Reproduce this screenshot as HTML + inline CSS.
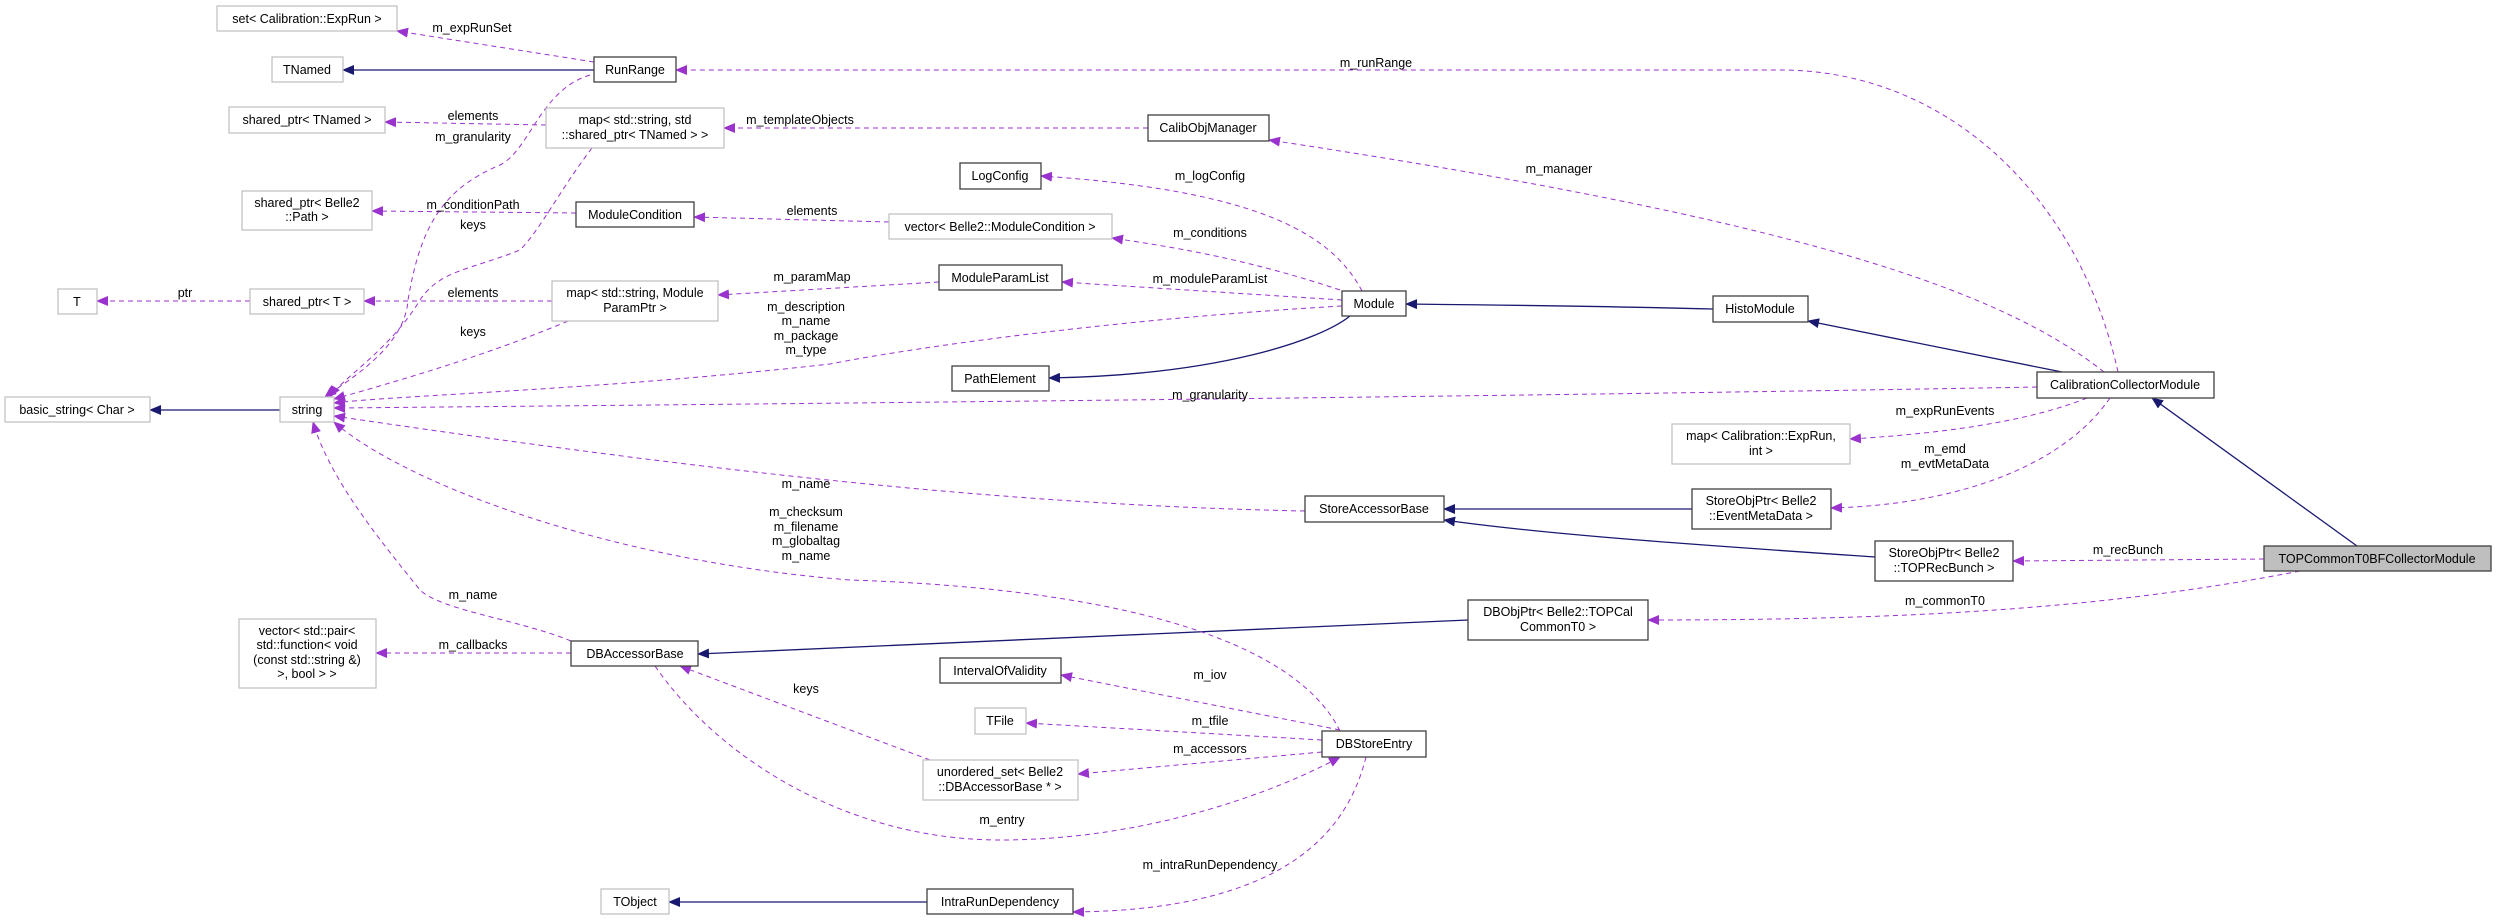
<!DOCTYPE html>
<html><head><meta charset="utf-8"><style>
html,body{margin:0;padding:0;background:#fff;}
svg{display:block;}
text{font-family:"Liberation Sans",sans-serif;font-size:12.5px;fill:#000;}
.p{fill:none;stroke:#9a32cd;stroke-width:1;stroke-dasharray:5,4;}
.n{fill:none;stroke:#191970;stroke-width:1.3;}
.b{fill:#fff;stroke:#404040;stroke-width:1.3;}
.g{fill:#fff;stroke:#bfbfbf;stroke-width:1.2;}
</style></head><body>
<svg width="2496" height="920" viewBox="0 0 2496 920" xmlns="http://www.w3.org/2000/svg">
<defs>
<marker id="ap" markerWidth="12" markerHeight="10" refX="11" refY="5" orient="auto" markerUnits="userSpaceOnUse"><path d="M0,0 L12,5 L0,10 z" fill="#9a32cd"/></marker>
<marker id="an" markerWidth="12" markerHeight="10" refX="11" refY="5" orient="auto" markerUnits="userSpaceOnUse"><path d="M0,0 L12,5 L0,10 z" fill="#191970"/></marker>
</defs>
<path class="n" marker-end="url(#an)" d="M594,70 L343,70"/>
<path class="n" marker-end="url(#an)" d="M280,410 L150,410"/>
<path class="n" marker-end="url(#an)" d="M1713,309 C1600,306 1500,305 1406,304"/>
<path class="n" marker-end="url(#an)" d="M1350,316 C1320,340 1220,375 1049,378"/>
<path class="n" marker-end="url(#an)" d="M2062,372 L1808,321"/>
<path class="n" marker-end="url(#an)" d="M2357,546 L2152,398"/>
<path class="n" marker-end="url(#an)" d="M1692,509 L1444,509"/>
<path class="n" marker-end="url(#an)" d="M1875,557 C1700,545 1550,535 1444,520"/>
<path class="n" marker-end="url(#an)" d="M1468,620 L698,654"/>
<path class="n" marker-end="url(#an)" d="M927,902 L669,902"/>
<path class="p" marker-end="url(#ap)" d="M594,62 L397,31"/>
<path class="p" marker-end="url(#ap)" d="M2118,372 C2080,200 1950,70 1780,70 L676,70"/>
<path class="p" marker-end="url(#ap)" d="M546,125 L385,122"/>
<path class="p" marker-end="url(#ap)" d="M1148,128 L724,128"/>
<path class="p" marker-end="url(#ap)" d="M2104,372 C2000,290 1800,220 1269,140"/>
<path class="p" marker-end="url(#ap)" d="M592,148 C560,190 540,230 520,250 C470,270 440,270 420,300 C390,350 340,380 330,397"/>
<path class="p" marker-end="url(#ap)" d="M590,75 C540,90 530,150 500,165 C440,190 420,230 408,300 C405,350 340,385 325,397"/>
<path class="p" marker-end="url(#ap)" d="M576,213 L372,211"/>
<path class="p" marker-end="url(#ap)" d="M889,222 L694,217"/>
<path class="p" marker-end="url(#ap)" d="M1362,291 C1330,230 1250,190 1041,176"/>
<path class="p" marker-end="url(#ap)" d="M1340,290 C1250,260 1180,248 1112,238"/>
<path class="p" marker-end="url(#ap)" d="M1342,300 L1062,282"/>
<path class="p" marker-end="url(#ap)" d="M939,282 L718,295"/>
<path class="p" marker-end="url(#ap)" d="M552,301 L364,301"/>
<path class="p" marker-end="url(#ap)" d="M250,301 L97,301"/>
<path class="p" marker-end="url(#ap)" d="M568,321 C500,350 420,375 334,399"/>
<path class="p" marker-end="url(#ap)" d="M1342,306 C1100,320 900,350 830,364 C600,390 400,395 334,403"/>
<path class="p" marker-end="url(#ap)" d="M2037,387 C1600,395 1000,402 334,408"/>
<path class="p" marker-end="url(#ap)" d="M1305,511 C1000,505 700,470 334,416"/>
<path class="p" marker-end="url(#ap)" d="M1340,731 C1300,650 1150,590 850,580 C600,560 400,480 334,422"/>
<path class="p" marker-end="url(#ap)" d="M571,641 C520,620 440,610 420,590 C380,540 330,480 313,422"/>
<path class="p" marker-end="url(#ap)" d="M571,653 L376,653"/>
<path class="p" marker-end="url(#ap)" d="M930,760 L680,666"/>
<path class="p" marker-end="url(#ap)" d="M655,666 C720,760 850,840 1000,840 C1150,840 1280,790 1340,757"/>
<path class="p" marker-end="url(#ap)" d="M1340,730 L1061,675"/>
<path class="p" marker-end="url(#ap)" d="M1322,740 L1026,723"/>
<path class="p" marker-end="url(#ap)" d="M1322,752 L1078,774"/>
<path class="p" marker-end="url(#ap)" d="M1366,757 C1350,820 1300,910 1073,912"/>
<path class="p" marker-end="url(#ap)" d="M2087,398 C2020,425 1920,435 1850,439"/>
<path class="p" marker-end="url(#ap)" d="M2110,398 C2060,470 1950,505 1831,508"/>
<path class="p" marker-end="url(#ap)" d="M2264,559 L2013,561"/>
<path class="p" marker-end="url(#ap)" d="M2300,571 C2100,610 1900,620 1648,620"/>
<g text-anchor="middle">
<text x="472" y="32">m_expRunSet</text>
<text x="1376" y="67">m_runRange</text>
<text x="473" y="120">elements</text>
<text x="800" y="124">m_templateObjects</text>
<text x="473" y="141">m_granularity</text>
<text x="1559" y="173">m_manager</text>
<text x="1210" y="180">m_logConfig</text>
<text x="473" y="209">m_conditionPath</text>
<text x="812" y="215">elements</text>
<text x="473" y="229">keys</text>
<text x="1210" y="237">m_conditions</text>
<text x="812" y="281">m_paramMap</text>
<text x="1210" y="283">m_moduleParamList</text>
<text x="185" y="297">ptr</text>
<text x="473" y="297">elements</text>
<text x="806" y="311">m_description</text>
<text x="806" y="325">m_name</text>
<text x="806" y="340">m_package</text>
<text x="806" y="354">m_type</text>
<text x="473" y="336">keys</text>
<text x="1210" y="399">m_granularity</text>
<text x="1945" y="415">m_expRunEvents</text>
<text x="1945" y="453">m_emd</text>
<text x="1945" y="468">m_evtMetaData</text>
<text x="806" y="488">m_name</text>
<text x="806" y="516">m_checksum</text>
<text x="806" y="531">m_filename</text>
<text x="806" y="545">m_globaltag</text>
<text x="806" y="560">m_name</text>
<text x="2128" y="554">m_recBunch</text>
<text x="473" y="599">m_name</text>
<text x="1945" y="605">m_commonT0</text>
<text x="473" y="649">m_callbacks</text>
<text x="1210" y="679">m_iov</text>
<text x="806" y="693">keys</text>
<text x="1210" y="725">m_tfile</text>
<text x="1210" y="753">m_accessors</text>
<text x="1002" y="824">m_entry</text>
<text x="1210" y="869">m_intraRunDependency</text>
</g>
<g text-anchor="middle">
<rect class="g" x="217" y="6" width="180" height="25"/><text x="307" y="23">set&lt; Calibration::ExpRun &gt;</text>
<rect class="g" x="272" y="57" width="71" height="25"/><text x="307" y="74">TNamed</text>
<rect class="b" x="594" y="57" width="82" height="25"/><text x="635" y="74">RunRange</text>
<rect class="g" x="229" y="107" width="156" height="26"/><text x="307" y="124">shared_ptr&lt; TNamed &gt;</text>
<rect class="g" x="546" y="108" width="178" height="40"/><text x="635" y="124">map&lt; std::string, std</text><text x="635" y="139">::shared_ptr&lt; TNamed &gt; &gt;</text>
<rect class="b" x="1148" y="115" width="121" height="26"/><text x="1208" y="132">CalibObjManager</text>
<rect class="b" x="960" y="163" width="81" height="26"/><text x="1000" y="180">LogConfig</text>
<rect class="g" x="242" y="191" width="130" height="39"/><text x="307" y="207">shared_ptr&lt; Belle2</text><text x="307" y="221">::Path &gt;</text>
<rect class="b" x="576" y="202" width="118" height="25"/><text x="635" y="219">ModuleCondition</text>
<rect class="g" x="889" y="214" width="223" height="25"/><text x="1000" y="231">vector&lt; Belle2::ModuleCondition &gt;</text>
<rect class="b" x="939" y="265" width="123" height="25"/><text x="1000" y="282">ModuleParamList</text>
<rect class="g" x="58" y="289" width="39" height="25"/><text x="77" y="306">T</text>
<rect class="g" x="250" y="289" width="114" height="25"/><text x="307" y="306">shared_ptr&lt; T &gt;</text>
<rect class="g" x="552" y="281" width="166" height="40"/><text x="635" y="297">map&lt; std::string, Module</text><text x="635" y="312">ParamPtr &gt;</text>
<rect class="b" x="1342" y="291" width="64" height="25"/><text x="1374" y="308">Module</text>
<rect class="b" x="1713" y="296" width="95" height="26"/><text x="1760" y="313">HistoModule</text>
<rect class="b" x="952" y="366" width="97" height="25"/><text x="1000" y="383">PathElement</text>
<rect class="b" x="2037" y="372" width="177" height="26"/><text x="2125" y="389">CalibrationCollectorModule</text>
<rect class="g" x="5" y="397" width="145" height="25"/><text x="77" y="414">basic_string&lt; Char &gt;</text>
<rect class="g" x="280" y="397" width="54" height="25"/><text x="307" y="414">string</text>
<rect class="g" x="1672" y="424" width="178" height="40"/><text x="1761" y="440">map&lt; Calibration::ExpRun,</text><text x="1761" y="455">int &gt;</text>
<rect class="b" x="1692" y="489" width="139" height="40"/><text x="1761" y="505">StoreObjPtr&lt; Belle2</text><text x="1761" y="520">::EventMetaData &gt;</text>
<rect class="b" x="1305" y="496" width="139" height="26"/><text x="1374" y="513">StoreAccessorBase</text>
<rect class="b" x="1875" y="541" width="138" height="40"/><text x="1944" y="557">StoreObjPtr&lt; Belle2</text><text x="1944" y="572">::TOPRecBunch &gt;</text>
<rect x="2264" y="546" width="227" height="25" fill="#bfbfbf" stroke="#404040" stroke-width="1.3"/><text x="2377" y="563">TOPCommonT0BFCollectorModule</text>
<rect class="b" x="1468" y="600" width="180" height="40"/><text x="1558" y="616">DBObjPtr&lt; Belle2::TOPCal</text><text x="1558" y="631">CommonT0 &gt;</text>
<rect class="g" x="239" y="619" width="137" height="69"/><text x="307" y="635">vector&lt; std::pair&lt;</text><text x="307" y="649">std::function&lt; void</text><text x="307" y="664">(const std::string &amp;)</text><text x="307" y="678">&gt;, bool &gt; &gt;</text>
<rect class="b" x="571" y="641" width="127" height="25"/><text x="635" y="658">DBAccessorBase</text>
<rect class="b" x="940" y="658" width="121" height="25"/><text x="1000" y="675">IntervalOfValidity</text>
<rect class="g" x="975" y="708" width="51" height="26"/><text x="1000" y="725">TFile</text>
<rect class="b" x="1322" y="731" width="104" height="26"/><text x="1374" y="748">DBStoreEntry</text>
<rect class="g" x="923" y="760" width="155" height="40"/><text x="1000" y="776">unordered_set&lt; Belle2</text><text x="1000" y="791">::DBAccessorBase * &gt;</text>
<rect class="g" x="601" y="889" width="68" height="25"/><text x="635" y="906">TObject</text>
<rect class="b" x="927" y="889" width="146" height="25"/><text x="1000" y="906">IntraRunDependency</text>
</g>
</svg>
</body></html>
